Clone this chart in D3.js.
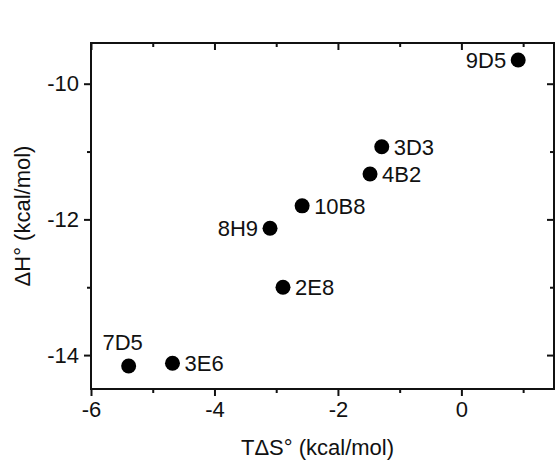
<!DOCTYPE html>
<html>
<head>
<meta charset="utf-8">
<script src="https://cdn.jsdelivr.net/npm/d3@7"></script>
<style>
  body { margin: 0; background: #fff; }
  text { font-family: "Liberation Sans", Arial, sans-serif; fill: #111; }
</style>
</head>
<body>
<div id="chart"></div>
<script>
// data
var labels = ["9D5", "3D3", "4B2", "10B8", "8H9", "2E8", "7D5", "3E6"];
var tds = [0.92, -1.29, -1.48, -2.58, -3.10, -2.89, -5.39, -4.68];
var dh = [-9.65, -10.93, -11.33, -11.80, -12.13, -13.00, -14.16, -14.12];
var labelPos = ["left", "right", "right", "right", "left", "right", "above", "right"];

var xMajor = [-6, -4, -2, 0];
var xMinor = [-5, -3, -1, 1];
var yMajor = [-10, -12, -14];
var yMinor = [-11, -13];

var svgWidth = 556;
var svgHeight = 467;
var margin = { top: 43, right: 2, bottom: 78, left: 91 };
var width = svgWidth - margin.left - margin.right;
var height = svgHeight - margin.top - margin.bottom;

var fs = "22px";
var fmt = d => String(d).replace("\u2212", "-");

var svg = d3.select("#chart")
    .append("svg")
    .attr("width", svgWidth)
    .attr("height", svgHeight);

var chartGroup = svg.append("g")
    .attr("transform", `translate(${margin.left}, ${margin.top})`);

var xScale = d3.scaleLinear().domain([-6, 1.5]).range([0, width]);
var yScale = d3.scaleLinear().domain([-14.5, -9.4]).range([height, 0]);

// frame
chartGroup.append("rect")
    .attr("width", width)
    .attr("height", height)
    .attr("fill", "none")
    .attr("stroke", "#111")
    .attr("stroke-width", 2);

function styleAxis(g) {
    g.select(".domain").remove();
    g.selectAll(".tick line").attr("stroke", "#111").attr("stroke-width", 2);
    g.selectAll(".tick text").attr("font-size", fs).attr("fill", "#111");
}

// bottom, major ticks + labels
chartGroup.append("g")
    .attr("transform", `translate(0, ${height})`)
    .call(d3.axisBottom(xScale).tickValues(xMajor).tickSize(7).tickPadding(5).tickFormat(fmt))
    .call(styleAxis);
chartGroup.append("g")
    .attr("transform", `translate(0, ${height})`)
    .call(d3.axisBottom(xScale).tickValues(xMinor).tickSize(4).tickFormat(""))
    .call(styleAxis);

// left
chartGroup.append("g")
    .call(d3.axisLeft(yScale).tickValues(yMajor).tickSize(7).tickPadding(5).tickFormat(fmt))
    .call(styleAxis);
chartGroup.append("g")
    .call(d3.axisLeft(yScale).tickValues(yMinor).tickSize(4).tickFormat(""))
    .call(styleAxis);

// top and right, inward ticks
chartGroup.append("g")
    .call(d3.axisTop(xScale).tickValues(xMajor).tickSize(-7).tickFormat(""))
    .call(styleAxis);
chartGroup.append("g")
    .call(d3.axisTop(xScale).tickValues(xMinor).tickSize(-4).tickFormat(""))
    .call(styleAxis);
chartGroup.append("g")
    .attr("transform", `translate(${width}, 0)`)
    .call(d3.axisRight(yScale).tickValues(yMajor).tickSize(-7).tickFormat(""))
    .call(styleAxis);
chartGroup.append("g")
    .attr("transform", `translate(${width}, 0)`)
    .call(d3.axisRight(yScale).tickValues(yMinor).tickSize(-4).tickFormat(""))
    .call(styleAxis);

// points
var points = labels.map(function(name, i) {
    return { name: name, x: tds[i], y: dh[i], pos: labelPos[i] };
});

chartGroup.selectAll("circle")
    .data(points)
    .enter()
    .append("circle")
    .attr("cx", d => xScale(d.x))
    .attr("cy", d => yScale(d.y))
    .attr("r", 7.5)
    .attr("fill", "#000");

chartGroup.selectAll(".ptlabel")
    .data(points)
    .enter()
    .append("text")
    .attr("class", "ptlabel")
    .attr("font-size", fs)
    .attr("x", function(d) {
        if (d.pos == "left") return xScale(d.x) - 12;
        if (d.pos == "right") return xScale(d.x) + 12;
        return xScale(d.x) - 6;
    })
    .attr("y", function(d) {
        if (d.pos == "above") return yScale(d.y) - 24;
        return yScale(d.y);
    })
    .attr("dy", "0.35em")
    .attr("text-anchor", function(d) {
        if (d.pos == "left") return "end";
        if (d.pos == "right") return "start";
        return "middle";
    })
    .text(d => d.name);

// axis titles
chartGroup.append("text")
    .attr("x", width / 2 - 5)
    .attr("y", height + 66)
    .attr("text-anchor", "middle")
    .attr("font-size", fs)
    .text("TΔS° (kcal/mol)");

chartGroup.append("text")
    .attr("transform", "rotate(-90)")
    .attr("x", -height / 2)
    .attr("y", -margin.left + 30)
    .attr("text-anchor", "middle")
    .attr("font-size", fs)
    .text("ΔH° (kcal/mol)");
</script>
</body>
</html>
